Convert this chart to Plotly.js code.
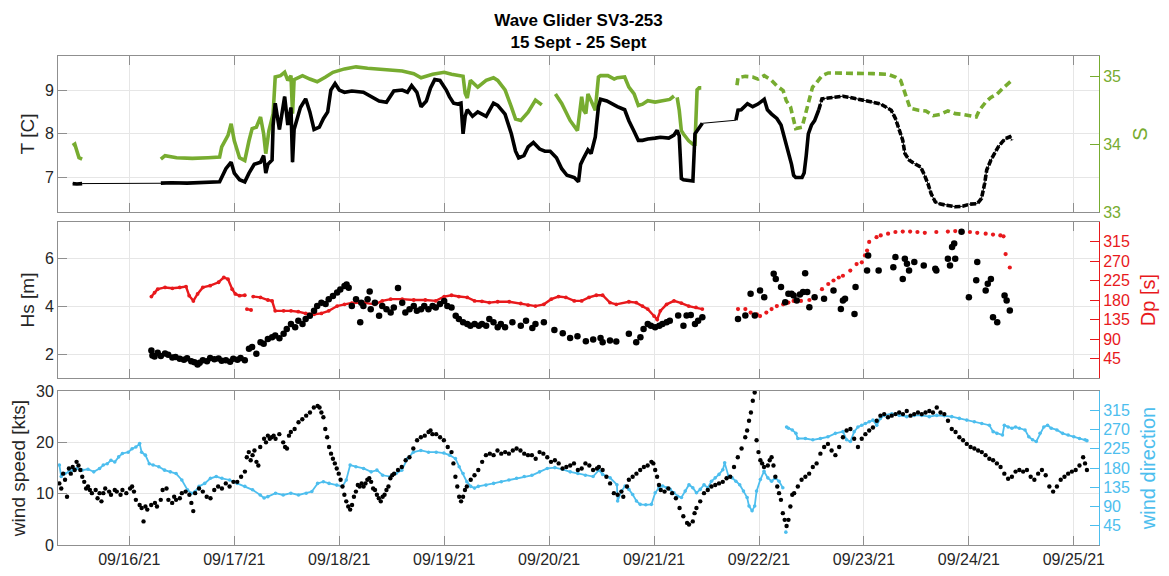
<!DOCTYPE html>
<html>
<head>
<meta charset="utf-8">
<script src="https://cdn.plot.ly/plotly-3.0.1.min.js"></script>
<style>
  html, body { margin: 0; padding: 0; background: #fff; }
  #chart { width: 1169px; height: 576px; }
</style>
</head>
<body>
<div id="chart"></div>
<script>
// Wave Glider SV3-253 time series, 15-25 Sept 2021.
// Each entry is [day of September (fractional), value]; null marks a data gap.

// Water temperature [C]
const TEMP = [
  [15.46,6.86],[15.50,6.85],[15.55,6.86], null,
  [16.30,6.87],[16.40,6.88],[16.55,6.87],[16.70,6.89],[16.86,6.90],[16.92,7.20],[16.97,7.35],[17.00,7.10],
  [17.05,6.95],[17.10,6.90],[17.14,7.10],[17.19,7.30],[17.25,7.35],[17.28,7.50],[17.30,7.10],[17.32,7.30],
  [17.36,7.40],[17.37,8.20],[17.39,8.70],[17.43,8.10],[17.48,8.85],[17.51,8.20],[17.54,8.60],[17.555,7.35],
  [17.57,8.10],[17.63,8.60],[17.68,8.80],[17.72,8.50],[17.76,8.10],[17.81,8.15],[17.85,8.35],[17.89,8.50],
  [17.92,9.00],[17.96,9.15],[18.00,9.00],[18.05,8.95],[18.12,8.98],[18.23,8.95],[18.30,8.85],[18.38,8.75],
  [18.45,8.72],[18.49,8.85],[18.52,8.98],[18.60,9.00],[18.65,8.95],[18.69,9.10],[18.74,8.95],[18.78,8.62],
  [18.83,8.75],[18.87,9.05],[18.91,9.24],[18.96,9.22],[19.02,9.00],[19.05,8.85],[19.09,8.70],[19.13,8.68],
  [19.16,8.70],[19.18,8.00],[19.20,8.40],[19.22,8.55],[19.27,8.40],[19.32,8.50],[19.40,8.40],[19.47,8.70],
  [19.51,8.65],[19.58,8.45],[19.64,8.00],[19.68,7.60],[19.71,7.45],[19.76,7.50],[19.80,7.70],[19.85,7.80],
  [19.91,7.65],[19.96,7.60],[20.01,7.60],[20.07,7.45],[20.12,7.20],[20.17,7.05],[20.24,7.00],[20.28,6.90],
  [20.30,7.30],[20.33,7.45],[20.37,7.63],[20.40,7.55],[20.44,7.93],[20.47,8.62],[20.49,8.79],[20.55,8.75],
  [20.62,8.65],[20.65,8.62],[20.72,8.55],[20.76,8.30],[20.81,8.05],[20.85,7.85],[20.89,7.85],[20.94,7.88],
  [21.01,7.90],[21.06,7.92],[21.14,7.90],[21.19,7.97],[21.22,8.08],[21.24,7.95],[21.25,7.47],[21.26,6.98],
  [21.28,6.95],[21.33,6.93],[21.37,6.92],[21.39,8.00],[21.42,8.10],[21.46,8.24], null,
  [21.78,8.31],[21.80,8.54],[21.83,8.55],[21.89,8.69],[21.94,8.62],[21.99,8.68],[22.05,8.79],[22.08,8.55],
  [22.12,8.45],[22.17,8.35],[22.21,8.20],[22.25,7.85],[22.28,7.60],[22.31,7.30],[22.33,7.05],[22.35,7.00],
  [22.41,7.00],[22.43,7.10],[22.45,7.50],[22.47,8.00],[22.50,8.20],[22.53,8.30],[22.57,8.55],[22.60,8.80],
  [22.66,8.82],[22.73,8.84],[22.80,8.86],[22.87,8.83],[22.94,8.80],[23.01,8.76],[23.09,8.72],[23.16,8.68],
  [23.21,8.62],[23.26,8.54],[23.30,8.35],[23.34,8.08],[23.37,7.85],[23.39,7.55],[23.43,7.40],[23.48,7.32],
  [23.54,7.24],[23.57,7.09],[23.61,6.86],[23.64,6.63],[23.68,6.44],[23.73,6.39],[23.80,6.37],[23.87,6.33],
  [23.94,6.34],[24.01,6.39],[24.08,6.40],[24.12,6.52],[24.15,6.86],[24.17,7.17],[24.21,7.40],[24.25,7.59],
  [24.28,7.70],[24.32,7.82],[24.35,7.89],[24.39,7.93],[24.41,7.85]
];

// Salinity S
const SAL = [
  [15.46,33.98],[15.48,34.00],[15.50,33.90],[15.52,33.80],[15.55,33.78], null,
  [16.30,33.78],[16.34,33.83],[16.45,33.80],[16.60,33.79],[16.75,33.80],[16.86,33.81],[16.88,33.96],[16.94,34.13],
  [16.97,34.30],[17.00,34.05],[17.05,33.80],[17.10,33.76],[17.14,34.05],[17.17,34.23],[17.21,34.25],[17.25,34.40],
  [17.28,34.15],[17.30,33.86],[17.33,34.20],[17.37,34.45],[17.39,34.99],[17.44,35.01],[17.48,35.06],[17.51,34.94],
  [17.54,35.01],[17.555,34.45],[17.57,34.95],[17.60,34.97],[17.65,35.01],[17.72,34.96],[17.79,34.92],[17.87,34.99],
  [17.94,35.06],[18.05,35.11],[18.16,35.14],[18.27,35.12],[18.38,35.11],[18.49,35.09],[18.60,35.08],[18.71,35.04],
  [18.78,34.98],[18.89,35.03],[19.00,35.06],[19.07,35.03],[19.18,35.00],[19.20,34.75],[19.22,34.68],[19.25,34.94],
  [19.32,34.84],[19.40,34.94],[19.47,34.98],[19.51,34.94],[19.58,34.80],[19.64,34.55],[19.68,34.37],[19.73,34.35],
  [19.80,34.47],[19.87,34.65],[19.93,34.58], null,
  [20.06,34.74],[20.12,34.60],[20.20,34.35],[20.27,34.20],[20.31,34.70],[20.33,34.50],[20.35,34.45],[20.37,34.74],
  [20.40,34.64],[20.44,34.50],[20.47,34.99],[20.49,35.01],[20.56,35.01],[20.62,34.96],[20.65,34.98],[20.72,34.99],
  [20.76,34.84],[20.81,34.74],[20.85,34.57],[20.89,34.59],[20.94,34.64],[21.01,34.62],[21.08,34.64],[21.15,34.66],
  [21.19,34.71], null,
  [21.22,34.69],[21.24,34.50],[21.26,34.20],[21.28,34.15],[21.33,34.05],[21.37,34.00],[21.39,34.00],[21.41,34.80],
  [21.43,34.83],[21.45,34.83], null,
  [21.79,34.87],[21.80,34.98],[21.87,35.00],[21.94,34.99],[21.99,34.96],[22.05,35.01],[22.12,34.94],[22.17,34.86],
  [22.23,34.79],[22.26,34.64],[22.30,34.55],[22.33,34.32],[22.35,34.23],[22.41,34.25],[22.44,34.42],[22.48,34.64],
  [22.51,34.84],[22.55,34.91],[22.60,35.01],[22.66,35.05],[22.80,35.05],[22.94,35.04],[23.09,35.04],[23.23,35.03],
  [23.30,34.99],[23.35,34.94],[23.38,34.79],[23.41,34.64],[23.44,34.53],[23.52,34.50],[23.59,34.49],[23.66,34.42],
  [23.73,34.44],[23.80,34.49],[23.87,34.45],[23.94,34.44],[24.02,34.42],[24.07,34.40],[24.10,34.50],[24.16,34.62],
  [24.21,34.69],[24.27,34.74],[24.32,34.82],[24.37,34.89],[24.41,34.94]
];

// Significant wave height Hs [m]
const HS = [
  [16.21,2.15],[16.22,1.94],[16.24,1.90],[16.27,2.05],[16.30,1.92],[16.34,2.02],[16.37,1.97],[16.41,1.85],
  [16.44,1.88],[16.48,1.80],[16.52,1.76],[16.55,1.82],[16.59,1.70],[16.62,1.66],[16.65,1.56],[16.67,1.64],
  [16.70,1.74],[16.74,1.70],[16.77,1.83],[16.81,1.78],[16.85,1.81],[16.88,1.72],[16.92,1.74],[16.96,1.68],
  [16.99,1.80],[17.03,1.76],[17.06,1.83],[17.10,1.74],[17.14,2.22],[17.17,2.29],[17.21,2.01],[17.25,2.49],
  [17.28,2.43],[17.32,2.63],[17.36,2.70],[17.39,2.77],[17.43,2.66],[17.47,2.84],[17.50,3.04],[17.54,3.25],
  [17.58,3.11],[17.61,3.39],[17.65,3.25],[17.68,3.46],[17.72,3.59],[17.76,3.80],[17.79,4.00],[17.83,4.14],
  [17.87,4.08],[17.90,4.28],[17.94,4.42],[17.98,4.56],[18.01,4.69],[18.05,4.83],[18.07,4.90],[18.09,4.76],
  [18.12,4.00],[18.16,4.28],[18.20,3.32],[18.21,4.14],[18.23,4.00],[18.27,4.28],[18.29,4.60],[18.30,3.87],
  [18.34,4.14],[18.38,3.59],[18.41,4.00],[18.45,3.87],[18.49,3.73],[18.52,3.94],[18.56,4.75],[18.60,4.14],
  [18.63,3.73],[18.67,3.87],[18.71,4.00],[18.74,3.80],[18.78,3.87],[18.81,4.00],[18.85,3.87],[18.89,4.00],
  [18.92,3.94],[18.96,4.08],[19.00,4.21],[19.03,4.00],[19.07,3.94],[19.11,3.59],[19.14,3.46],[19.18,3.32],
  [19.22,3.25],[19.25,3.18],[19.29,3.25],[19.33,3.18],[19.36,3.25],[19.40,3.18],[19.43,3.46],[19.47,3.32],
  [19.51,3.11],[19.54,3.25],[19.58,3.11],[19.65,3.32],[19.73,3.18],[19.78,3.39],[19.84,3.08],[19.87,3.25],
  [19.95,3.32],[20.05,3.00],[20.13,2.87],[20.20,2.67],[20.27,2.74],[20.35,2.53],[20.42,2.60],[20.49,2.67],
  [20.51,2.49],[20.58,2.56],[20.64,2.52],[20.76,2.84],[20.83,2.49],[20.87,2.70],[20.90,3.04],[20.94,3.25],
  [20.97,3.18],[21.01,3.11],[21.05,3.18],[21.08,3.25],[21.12,3.32],[21.15,3.39],[21.23,3.60],[21.28,3.18],
  [21.31,3.60],[21.35,3.63],[21.39,3.25],[21.42,3.39],[21.46,3.53],
  [21.80,3.46],[21.87,3.60],[21.92,4.51],[21.96,3.60],[22.01,4.65],[22.05,4.37],[22.14,5.34],[22.16,5.13],
  [22.21,4.79],[22.25,4.16],[22.28,4.51],[22.31,4.51],[22.33,4.44],[22.36,4.23],[22.39,4.48],[22.42,4.58],
  [22.44,5.37],[22.46,4.58],[22.48,3.95],[22.53,4.37],[22.62,4.30],[22.71,4.65],[22.78,3.88],[22.80,4.23],
  [22.82,4.30],[22.91,3.67],[22.92,4.79],[23.03,5.48],[23.04,6.10],[23.14,5.48],[23.28,5.62],[23.30,6.04],
  [23.37,5.13],[23.39,5.97],[23.41,5.76],[23.43,5.48],[23.48,5.83],[23.57,5.69],[23.68,5.55],[23.69,5.48],
  [23.80,5.97],[23.82,5.69],[23.84,6.46],[23.86,6.60],[23.87,5.97],[23.93,7.09],[24.00,4.37],[24.07,5.07],
  [24.08,5.83],[24.16,4.65],[24.18,4.93],[24.21,5.13],[24.23,3.53],[24.27,3.32],[24.34,4.44],[24.36,4.23],
  [24.39,3.81]
];

// Peak wave direction Dp
const DP = [
  [16.21,188],[16.24,197],[16.27,205],[16.34,209],[16.41,207],[16.48,209],[16.54,211],[16.57,190],
  [16.61,178],[16.65,194],[16.70,209],[16.77,213],[16.85,221],[16.90,232],[16.94,228],[16.98,205],
  [17.01,194],[17.05,190],[17.10,191], null,
  [17.12,159],[17.16,157], null,
  [17.18,188],[17.25,186],[17.32,180],[17.36,178],[17.39,155],[17.47,155],[17.54,155],[17.61,153],
  [17.68,149],[17.76,147],[17.83,149],[17.90,155],[17.98,166],[18.05,170],[18.12,173],[18.23,174],
  [18.34,170],[18.41,178],[18.49,182],[18.60,182],[18.71,180],[18.82,180],[18.92,178],[19.00,188],
  [19.07,191],[19.14,188],[19.22,186],[19.29,178],[19.36,177],[19.43,174],[19.51,176],[19.62,176],
  [19.73,172],[19.80,168],[19.87,166],[19.95,170],[20.02,182],[20.09,188],[20.16,186],[20.24,178],
  [20.31,178],[20.38,186],[20.45,191],[20.51,191],[20.58,174],[20.64,170],[20.76,176],[20.83,174],
  [20.89,166],[20.94,159],[21.00,143],[21.03,135],[21.06,155],[21.12,170],[21.19,178],[21.26,173],
  [21.33,166],[21.40,163],[21.46,159], null,
  [21.80,159],[21.87,159],[21.92,151],[21.98,147],[22.01,143],[22.07,151],[22.12,159],[22.17,166],
  [22.23,170],[22.28,174],[22.33,178],[22.40,178],[22.48,180],[22.53,188],[22.60,205],[22.66,217],
  [22.71,225],[22.76,232],[22.80,236],[22.87,248],[22.93,263],[22.98,267],[23.01,283],[23.03,294],
  [23.05,314],[23.12,325],[23.16,329],[23.23,333],[23.30,337],[23.37,338],[23.44,338],[23.51,337],
  [23.58,335],[23.69,337],[23.80,338],[23.87,339],[23.94,337],[24.01,337],[24.08,335],[24.16,333],
  [24.23,331],[24.30,329],[24.33,327],[24.35,286],[24.39,255]
];

// Wind speed [kts]
const WSPD = [
  [15.333,12.0],[15.351,11.0],[15.369,13.9],[15.387,12.7],[15.406,9.4],[15.424,14.9],[15.442,13.9],[15.460,15.2],
  [15.479,14.6],[15.497,16.2],[15.515,15.5],[15.533,14.6],[15.551,13.3],[15.570,12.3],[15.588,11.0],[15.606,11.4],
  [15.624,10.7],[15.643,10.1],[15.679,10.7],[15.697,9.1],[15.716,10.1],[15.734,8.5],[15.752,10.1],[15.770,11.0],
  [15.807,10.4],[15.825,9.8],[15.861,10.7],[15.880,10.4],[15.916,9.8],[15.934,10.7],[15.971,10.1],[16.007,11.0],
  [16.026,11.4],[16.044,10.4],[16.062,8.8],[16.098,7.8],[16.117,7.2],[16.135,4.6],[16.153,7.5],[16.171,6.9],
  [16.208,7.8],[16.244,8.2],[16.263,7.5],[16.299,8.8],[16.317,10.7],[16.354,11.0],[16.372,8.8],[16.408,8.2],
  [16.427,9.4],[16.445,8.8],[16.481,9.1],[16.500,10.1],[16.536,10.4],[16.572,9.8],[16.591,8.2],[16.609,6.6],
  [16.627,10.1],[16.664,11.0],[16.700,10.4],[16.737,9.4],[16.773,9.1],[16.809,10.7],[16.846,11.4],[16.882,11.0],
  [16.919,12.0],[16.955,11.4],[16.992,12.3],[17.028,12.3],[17.065,13.3],[17.101,14.3],[17.119,17.1],[17.138,18.1],
  [17.156,16.5],[17.174,17.5],[17.192,18.4],[17.211,16.2],[17.229,15.5],[17.247,19.1],[17.284,20.7],[17.302,20.0],
  [17.320,21.3],[17.338,20.7],[17.356,21.0],[17.375,21.3],[17.393,20.7],[17.429,21.6],[17.466,20.0],[17.484,19.1],
  [17.502,18.8],[17.521,21.3],[17.539,22.0],[17.575,22.6],[17.612,23.9],[17.648,24.5],[17.685,25.2],[17.721,25.8],
  [17.758,26.8],[17.794,27.1],[17.812,26.8],[17.830,25.8],[17.849,24.9],[17.867,22.6],[17.885,21.0],[17.903,19.1],
  [17.922,17.8],[17.940,16.8],[17.958,15.9],[17.976,14.9],[17.995,13.9],[18.013,12.7],[18.031,11.4],[18.049,9.8],
  [18.067,8.5],[18.086,7.5],[18.104,6.9],[18.122,7.8],[18.140,9.4],[18.159,10.4],[18.177,11.7],[18.195,11.4],
  [18.213,12.0],[18.232,11.4],[18.250,12.0],[18.268,12.7],[18.286,13.0],[18.304,12.3],[18.323,11.0],[18.341,10.7],
  [18.359,9.8],[18.377,9.1],[18.396,8.5],[18.414,9.4],[18.432,9.8],[18.450,10.7],[18.469,11.4],[18.487,13.0],
  [18.505,13.6],[18.523,13.9],[18.560,14.6],[18.596,15.2],[18.633,16.5],[18.669,17.1],[18.706,18.8],[18.742,20.4],
  [18.778,21.0],[18.815,21.3],[18.851,22.0],[18.870,22.3],[18.888,21.6],[18.924,21.6],[18.961,21.0],[18.997,20.4],
  [19.034,19.1],[19.070,18.1],[19.088,15.9],[19.107,13.3],[19.125,11.4],[19.143,9.4],[19.161,8.5],[19.180,9.4],
  [19.198,10.7],[19.216,11.4],[19.253,12.7],[19.289,13.6],[19.325,14.6],[19.362,16.2],[19.398,17.5],[19.435,17.8],
  [19.471,17.5],[19.508,18.4],[19.544,17.8],[19.581,18.1],[19.617,17.8],[19.654,18.4],[19.690,18.8],[19.727,18.4],
  [19.763,17.8],[19.799,17.5],[19.836,17.5],[19.872,16.8],[19.909,18.1],[19.945,17.8],[19.982,17.1],[20.018,16.2],
  [20.055,16.5],[20.091,15.9],[20.128,14.9],[20.164,15.2],[20.201,15.5],[20.237,15.9],[20.274,14.6],[20.310,14.9],
  [20.346,15.9],[20.383,15.5],[20.419,14.6],[20.456,14.9],[20.474,15.2],[20.510,14.6],[20.546,13.3],[20.581,12.0],
  [20.617,10.1],[20.653,9.8],[20.689,10.4],[20.707,9.4],[20.742,11.4],[20.760,12.7],[20.796,13.3],[20.832,13.9],
  [20.868,14.6],[20.903,15.2],[20.939,15.5],[20.975,16.2],[20.993,15.9],[21.011,14.6],[21.029,13.3],[21.047,11.7],
  [21.064,10.7],[21.100,10.4],[21.136,11.0],[21.172,10.1],[21.208,9.1],[21.243,7.2],[21.279,5.6],[21.315,4.3],
  [21.333,4.0],[21.369,4.6],[21.386,6.2],[21.404,7.2],[21.440,8.5],[21.476,10.1],[21.512,10.7],[21.547,11.4],
  [21.583,11.7],[21.619,12.0],[21.655,12.3],[21.691,13.0],[21.726,13.3],[21.762,15.2],[21.798,17.1],[21.834,18.8],
  [21.869,21.0],[21.887,22.3],[21.905,24.2],[21.923,25.8],[21.941,28.1],[21.959,29.7],[21.977,20.4],[21.995,18.1],
  [22.013,16.5],[22.030,15.9],[22.048,15.2],[22.084,15.5],[22.102,16.5],[22.120,17.1],[22.138,15.5],[22.156,13.3],
  [22.174,11.4],[22.191,10.1],[22.209,8.8],[22.227,6.2],[22.245,4.9],[22.263,3.7],[22.281,4.9],[22.299,7.5],
  [22.317,9.8],[22.335,10.1],[22.370,11.4],[22.406,12.7],[22.442,13.3],[22.478,13.9],[22.513,15.2],[22.549,15.9],
  [22.585,17.8],[22.621,19.1],[22.657,19.7],[22.692,18.4],[22.728,17.5],[22.764,19.1],[22.800,21.0],[22.835,22.3],
  [22.871,22.6],[22.907,20.7],[22.943,19.1],[22.979,20.7],[23.014,21.6],[23.050,22.3],[23.086,22.9],[23.122,24.2],
  [23.157,25.2],[23.193,25.5],[23.229,24.9],[23.265,25.2],[23.301,25.5],[23.336,25.8],[23.372,25.5],[23.408,26.1],
  [23.444,25.2],[23.479,25.5],[23.515,25.8],[23.551,25.5],[23.587,25.8],[23.623,26.1],[23.658,25.8],[23.694,26.8],
  [23.730,25.8],[23.766,25.5],[23.801,24.2],[23.837,22.6],[23.873,22.0],[23.909,21.0],[23.945,20.4],[23.980,19.7],
  [24.016,19.1],[24.052,18.8],[24.088,18.4],[24.123,18.1],[24.159,17.5],[24.195,16.8],[24.231,16.5],[24.267,15.9],
  [24.302,15.2],[24.338,13.9],[24.374,12.9],[24.410,13.3],[24.445,14.3],[24.481,14.6],[24.517,14.3],[24.553,14.6],
  [24.589,13.3],[24.624,12.7],[24.660,13.9],[24.696,14.6],[24.732,13.6],[24.767,11.4],[24.803,10.4],[24.839,11.4],
  [24.875,12.7],[24.911,13.3],[24.946,13.9],[24.982,14.3],[25.018,14.6],[25.054,15.5],[25.089,17.1],[25.107,15.9],
  [25.125,14.6]
];

// Wind direction
const WDIR = [
  [15.333,187],[15.351,160],[15.387,167],[15.424,171],[15.460,175],[15.497,179],[15.551,175],[15.606,177],
  [15.661,171],[15.716,179],[15.752,187],[15.789,190],[15.825,198],[15.861,194],[15.898,206],[15.934,214],
  [15.989,217],[16.026,225],[16.062,229],[16.098,237],[16.117,217],[16.153,210],[16.190,190],[16.226,187],
  [16.281,183],[16.336,175],[16.390,171],[16.445,167],[16.500,152],[16.554,129],[16.591,121],[16.627,125],
  [16.664,137],[16.718,144],[16.773,156],[16.828,160],[16.882,156],[16.955,152],[17.028,144],[17.101,137],
  [17.174,129],[17.247,117],[17.284,110],[17.320,113],[17.393,121],[17.466,117],[17.539,121],[17.612,117],
  [17.685,121],[17.739,125],[17.794,144],[17.849,148],[17.903,144],[17.976,140],[18.031,137],[18.067,152],
  [18.104,187],[18.159,183],[18.232,179],[18.304,171],[18.359,175],[18.414,163],[18.487,160],[18.542,167],
  [18.596,175],[18.651,202],[18.706,217],[18.778,221],[18.851,217],[18.924,217],[18.997,215],[19.052,210],
  [19.107,202],[19.143,183],[19.180,167],[19.216,148],[19.253,137],[19.289,133],[19.325,137],[19.398,140],
  [19.471,144],[19.544,148],[19.617,152],[19.690,156],[19.763,160],[19.836,163],[19.909,171],[19.982,179],
  [20.055,181],[20.128,177],[20.201,171],[20.274,167],[20.346,163],[20.419,160],[20.474,175],[20.510,165],
  [20.581,157],[20.646,141],[20.653,103],[20.689,126],[20.724,138],[20.760,130],[20.796,118],[20.832,103],
  [20.868,95],[20.921,94],[20.975,95],[21.011,122],[21.047,134],[21.082,138],[21.118,134],[21.154,130],
  [21.190,122],[21.226,114],[21.261,111],[21.297,126],[21.333,141],[21.369,134],[21.404,122],[21.440,130],
  [21.476,141],[21.512,134],[21.547,149],[21.583,157],[21.619,165],[21.655,176],[21.673,192],[21.709,161],
  [21.744,157],[21.780,149],[21.816,141],[21.852,126],[21.887,111],[21.905,91],[21.934,80],[21.959,91],
  [21.977,126],[22.013,153],[22.048,172],[22.084,157],[22.120,149],[22.156,157],[22.191,149],[22.227,134], null,
  [22.256,30], null,
  [22.263,276],[22.281,273],[22.317,269],[22.352,261],[22.370,249],[22.442,249],[22.513,246],[22.585,249],
  [22.657,253],[22.728,261],[22.800,265],[22.835,246],[22.871,242],[22.907,265],[22.943,276],[22.979,280],
  [23.014,284],[23.050,288],[23.086,292],[23.122,280],[23.157,296],[23.193,303],[23.265,307],[23.336,303],
  [23.408,300],[23.479,303],[23.551,303],[23.623,300],[23.694,303],[23.766,302],[23.837,300],[23.909,296],
  [23.980,292],[24.052,288],[24.123,284],[24.195,280],[24.231,265],[24.267,261],[24.320,257],[24.338,280],
  [24.374,276],[24.410,273],[24.445,276],[24.481,273],[24.535,269],[24.571,253],[24.607,246],[24.642,242],
  [24.678,261],[24.714,276],[24.750,280],[24.785,273],[24.839,269],[24.893,261],[24.946,257],[25.000,253],
  [25.054,249],[25.107,246],[25.125,244]
];

// Later salinity, temperature and wave-direction records are sampled sparsely
const S_SPARSE_FROM = 21.6;
const T_SPARSE_FROM = 22.57;
const DP_SPARSE_FROM = 21.6;

// Axis tick values and ranges
const DATE_RANGE = [15.32, 25.24];
const T_TICKS = [7, 8, 9];
const S_TICKS = [33, 34, 35];
const HS_TICKS = [2, 4, 6];
const DIR_TICKS = [45, 90, 135, 180, 225, 270, 315];
const WS_TICKS = [0, 10, 20, 30];

const GREEN = '#77ac30', RED = '#e8191c', BLUE = '#4dbeee', BLACK = '#000000';
const FRAME = '#8f8f8f', GRID = '#e6e6e6', TXT = '#262626';
const FONT = 'Liberation Sans, Arial, Helvetica, sans-serif';

function toDate(day) {
  return new Date(Date.UTC(2021, 8, 1) + (day - 1) * 86400000)
    .toISOString().replace('T', ' ').slice(0, 19);
}
// Split a [day, value] list into x/y arrays within a day window [from, to].
function series(list, from, to, keepGaps) {
  const x = [], y = [];
  for (const p of list) {
    if (p === null) { if (keepGaps) { x.push(null); y.push(null); } continue; }
    if (p[0] < from || p[0] > to) continue;
    x.push(toDate(p[0])); y.push(p[1]);
  }
  return { x, y };
}

const traces = [];
// Panel 1: salinity (right axis) under temperature (left axis)
let s = series(SAL, 0, S_SPARSE_FROM, true);
traces.push({ x: s.x, y: s.y, xaxis: 'x3', yaxis: 'y5', mode: 'lines', connectgaps: false,
  line: { color: GREEN, width: 3.6 }, hoverinfo: 'skip' });
s = series(SAL, S_SPARSE_FROM, 99, true);
traces.push({ x: s.x, y: s.y, xaxis: 'x3', yaxis: 'y5', mode: 'lines', connectgaps: false,
  line: { color: GREEN, width: 3.6, dash: '7px,4px' }, hoverinfo: 'skip' });
s = series(TEMP, 0, 99, false);
traces.push({ x: s.x, y: s.y, xaxis: 'x3', yaxis: 'y6', mode: 'lines',
  line: { color: BLACK, width: 1 }, hoverinfo: 'skip' });
s = series(TEMP, 0, T_SPARSE_FROM, true);
traces.push({ x: s.x, y: s.y, xaxis: 'x3', yaxis: 'y6', mode: 'lines', connectgaps: false,
  line: { color: BLACK, width: 3.6 }, hoverinfo: 'skip' });
s = series(TEMP, T_SPARSE_FROM, 99, true);
traces.push({ x: s.x, y: s.y, xaxis: 'x3', yaxis: 'y6', mode: 'lines', connectgaps: false,
  line: { color: BLACK, width: 3.6, dash: '6px,2px' }, hoverinfo: 'skip' });

// Panel 2: wave direction (right axis) under wave height (left axis)
s = series(DP, 0, DP_SPARSE_FROM, true);
traces.push({ x: s.x, y: s.y, xaxis: 'x2', yaxis: 'y3', mode: 'lines+markers', connectgaps: false,
  line: { color: RED, width: 2.4 }, marker: { color: RED, size: 3.8 }, hoverinfo: 'skip' });
s = series(DP, DP_SPARSE_FROM, 99, false);
traces.push({ x: s.x, y: s.y, xaxis: 'x2', yaxis: 'y3', mode: 'markers',
  marker: { color: RED, size: 4.2 }, hoverinfo: 'skip' });
s = series(HS, 0, 99, false);
traces.push({ x: s.x, y: s.y, xaxis: 'x2', yaxis: 'y4', mode: 'markers',
  marker: { color: BLACK, size: 6.5 }, hoverinfo: 'skip' });

// Panel 3: wind direction (right axis) under wind speed (left axis)
s = series(WDIR, 0, 99, true);
traces.push({ x: s.x, y: s.y, xaxis: 'x', yaxis: 'y', mode: 'lines+markers', connectgaps: false,
  line: { color: BLUE, width: 1.8 }, marker: { color: BLUE, size: 3.6 }, hoverinfo: 'skip' });
s = series(WSPD, 0, 99, false);
traces.push({ x: s.x, y: s.y, xaxis: 'x', yaxis: 'y2', mode: 'markers',
  marker: { color: BLACK, size: 4.4 }, hoverinfo: 'skip' });

const frame = {
  showline: true, linecolor: FRAME, linewidth: 1, ticks: 'inside', ticklen: 9,
  tickcolor: FRAME, zeroline: false, tickfont: { family: FONT, size: 16, color: TXT }
};
function xAxis(anchor, labels) {
  return Object.assign({}, frame, {
    type: 'date', anchor: anchor, domain: [0, 1],
    range: [toDate(DATE_RANGE[0]), toDate(DATE_RANGE[1])],
    tick0: '2021-09-16', dtick: 86400000, tickformat: '%m/%d/%y',
    showticklabels: labels, mirror: 'ticks', showgrid: true, gridcolor: GRID, gridwidth: 1
  });
}
function leftAxis(overlay, anchor, range, ticks, title) {
  return Object.assign({}, frame, {
    overlaying: overlay, anchor: anchor, side: 'left', range: range, tickvals: ticks,
    showgrid: true, gridcolor: GRID, gridwidth: 1,
    title: { text: title, font: { family: FONT, size: 19, color: TXT }, standoff: 5 }
  });
}
function rightAxis(domain, anchor, range, ticks, color, title) {
  return Object.assign({}, frame, {
    domain: domain, anchor: anchor, side: 'right', range: range, tickvals: ticks,
    showgrid: false, linecolor: color, tickcolor: color,
    tickfont: { family: FONT, size: 16, color: color },
    title: { text: title, font: { family: FONT, size: 20, color: color }, standoff: 12 }
  });
}

const layout = {
  width: 1169, height: 576,
  margin: { l: 58, r: 70, t: 56, b: 31, pad: 0 },
  paper_bgcolor: '#ffffff', plot_bgcolor: '#ffffff',
  showlegend: false,
  font: { family: FONT, color: TXT },
  title: {
    text: '<b>Wave Glider SV3-253</b><br><b>15 Sept - 25 Sept</b>',
    font: { family: FONT, size: 17, color: '#000000' },
    x: 0.5, xref: 'paper', xanchor: 'center', y: 0.955, yref: 'container', yanchor: 'middle'
  },
  xaxis: xAxis('y', true),
  xaxis2: Object.assign(xAxis('y3', false), { matches: 'x' }),
  xaxis3: Object.assign(xAxis('y5', false), { matches: 'x' }),
  yaxis: rightAxis([0, 0.3149], 'x', [0, 360], DIR_TICKS, BLUE, 'wind direction'),
  yaxis2: leftAxis('y', 'x', [0, 30], WS_TICKS, 'wind speed [kts]'),
  yaxis3: rightAxis([0.3415, 0.6605], 'x2', [0, 360], DIR_TICKS, RED, 'Dp [s]'),
  yaxis4: leftAxis('y3', 'x2', [1, 7.5], HS_TICKS, 'Hs [m]'),
  yaxis5: rightAxis([0.681, 1], 'x3', [33, 35.3], S_TICKS, GREEN, 'S'),
  yaxis6: leftAxis('y5', 'x3', [6.21, 9.78], T_TICKS, 'T [C]')
};

Plotly.newPlot('chart', traces, layout, { displayModeBar: false, staticPlot: true });
</script>
</body>
</html>
